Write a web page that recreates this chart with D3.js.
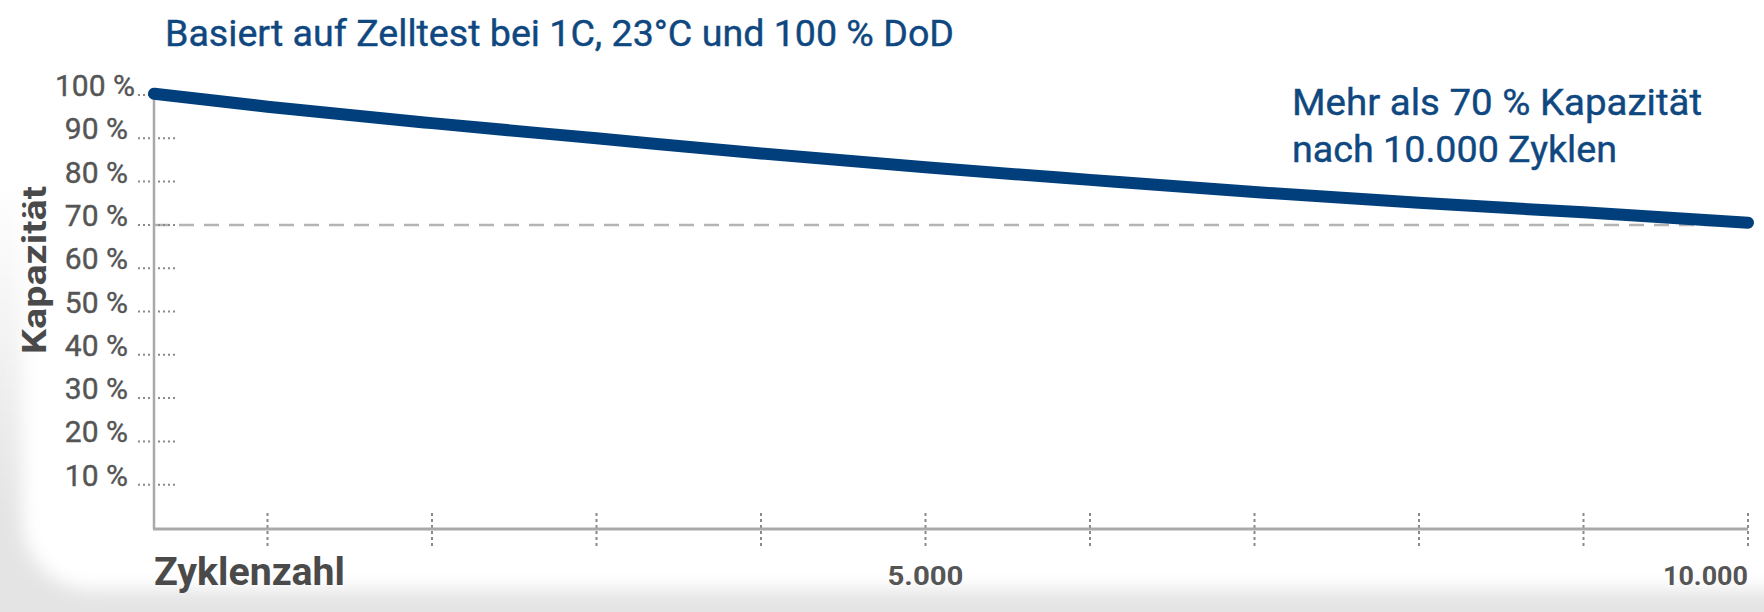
<!DOCTYPE html>
<html>
<head>
<meta charset="utf-8">
<script src="https://cdn.jsdelivr.net/npm/d3@7/dist/d3.min.js"></script>
<style>
  html, body { margin: 0; padding: 0; background: #ffffff; }
  svg { display: block; }
</style>
</head>
<body>
<svg id="chart" width="1764" height="612"></svg>
<script>
// ---- data ----
const cycles   = [310, 1000, 2000, 3000, 4000, 5000, 6000, 7000, 8000, 9000, 10000];
const capacity = [100.3, 97.3, 93.5, 90.0, 86.5, 83.3, 80.4, 77.6, 75.1, 72.9, 70.5];
const yTicks      = [100, 90, 80, 70, 60, 50, 40, 30, 20, 10];
const yTickLabels = ["100 %", "90 %", "80 %", "70 %", "60 %", "50 %", "40 %", "30 %", "20 %", "10 %"];
const xTicks      = [1000, 2000, 3000, 4000, 5000, 6000, 7000, 8000, 9000, 10000];
const xTickLabels = {5000: "5.000", 10000: "10.000"};
const referenceLevel = 70;
const xStart = 310, xEnd = 10000;
const titleText = "Basiert auf Zelltest bei 1C, 23°C und 100 % DoD";
const noteLines = ["Mehr als 70 % Kapazität", "nach 10.000 Zyklen"];
const yTitle = "Kapazität";
const xTitle = "Zyklenzahl";

// ---- layout ----
const W = 1764, H = 612;
const svg = d3.select("#chart");
const x = d3.scaleLinear().domain([xStart, xEnd]).range([154, 1748]);
const y = d3.scaleLinear().domain([0, 100]).range([528, 95]);

const blue = "#003f7b", textBlue = "#0f4880", gray = "#555555", axisGray = "#a9a9a9";
const font = "Roboto, 'Liberation Sans', sans-serif";

// ---- background card ----
const defs = svg.append("defs");
const blur = defs.append("filter").attr("id", "soft").attr("x", "-10%").attr("y", "-10%").attr("width", "120%").attr("height", "120%");
blur.append("feGaussianBlur").attr("stdDeviation", 9);
const lg = defs.append("linearGradient").attr("id", "fadeTop").attr("x1", 0).attr("y1", 0).attr("x2", 0).attr("y2", 1);
lg.append("stop").attr("offset", "0").attr("stop-color", "#fff").attr("stop-opacity", 1);
lg.append("stop").attr("offset", "0.3").attr("stop-color", "#fff").attr("stop-opacity", 1);
lg.append("stop").attr("offset", "0.85").attr("stop-color", "#fff").attr("stop-opacity", 0);

svg.append("rect").attr("width", W).attr("height", H).attr("fill", "#e4e4e4");
svg.append("rect").attr("x", 0).attr("y", 0).attr("width", 60).attr("height", H).attr("fill", "url(#fadeTop)");
svg.append("rect").attr("x", 22).attr("y", -120).attr("width", W + 100).attr("height", 710)
  .attr("rx", 70).attr("fill", "#fff").attr("filter", "url(#soft)");

// ---- title ----
svg.append("text").attr("x", 165).attr("y", 46)
  .attr("font-family", font).attr("font-size", 36).attr("fill", textBlue)
  .attr("stroke", textBlue).attr("stroke-width", 0.4)
  .attr("textLength", 789).attr("lengthAdjust", "spacingAndGlyphs")
  .text(titleText);

// ---- reference line at 70 % ----
svg.append("line")
  .attr("x1", x(xStart)).attr("x2", x(xEnd))
  .attr("y1", y(referenceLevel)).attr("y2", y(referenceLevel))
  .attr("stroke", "#b4b4b4").attr("stroke-width", 2.5).attr("stroke-dasharray", "15,10");

// ---- y ticks (dotted) and labels ----
const yg = svg.append("g");
yg.selectAll("line").data(yTicks).join("line")
  .attr("x1", 138).attr("x2", d => d === 100 ? x(xStart) : 176)
  .attr("y1", d => y(d)).attr("y2", d => y(d))
  .attr("stroke", "#8a8a8a").attr("stroke-width", 2).attr("stroke-dasharray", "2,3");
yg.selectAll("text").data(yTicks).join("text")
  .attr("x", d => d === 100 ? 135 : 128).attr("y", d => y(d) + 1)
  .attr("text-anchor", "end")
  .attr("font-family", font).attr("font-size", 30).attr("fill", gray)
  .attr("stroke", gray).attr("stroke-width", 0.4)
  .text((d, i) => yTickLabels[i]);

// ---- x ticks (dotted) ----
const xg = svg.append("g");
xg.selectAll("line").data(xTicks).join("line")
  .attr("x1", d => x(d)).attr("x2", d => x(d))
  .attr("y1", 513).attr("y2", 549)
  .attr("stroke", "#8a8a8a").attr("stroke-width", 2).attr("stroke-dasharray", "3,3");
xg.selectAll("text").data(xTicks.filter(d => xTickLabels[d])).join("text")
  .attr("x", d => x(d)).attr("y", 585)
  .attr("text-anchor", d => d === xEnd ? "end" : "middle")
  .attr("font-family", font).attr("font-weight", 700).attr("font-size", 26).attr("fill", gray)
  .attr("textLength", d => d === xEnd ? 85 : 76).attr("lengthAdjust", "spacingAndGlyphs")
  .text(d => xTickLabels[d]);

// ---- axes lines ----
svg.append("line").attr("x1", x(xStart)).attr("x2", x(xStart)).attr("y1", y(100)).attr("y2", y(0) + 1)
  .attr("stroke", axisGray).attr("stroke-width", 2.5);
svg.append("line").attr("x1", x(xStart) - 1).attr("x2", x(xEnd)).attr("y1", y(0) + 1).attr("y2", y(0) + 1)
  .attr("stroke", axisGray).attr("stroke-width", 3);

// ---- axis titles ----
svg.append("text")
  .attr("transform", `translate(46, ${270}) rotate(-90)`)
  .attr("text-anchor", "middle")
  .attr("font-family", font).attr("font-weight", 700).attr("font-size", 34).attr("fill", "#4a4a4a")
  .attr("textLength", 168).attr("lengthAdjust", "spacingAndGlyphs")
  .text(yTitle);
svg.append("text").attr("x", 154).attr("y", 585)
  .attr("font-family", font).attr("font-weight", 700).attr("font-size", 38).attr("fill", "#4a4a4a")
  .attr("textLength", 191).attr("lengthAdjust", "spacingAndGlyphs")
  .text(xTitle);

// ---- data line ----
const pts = cycles.map((c, i) => [c, capacity[i]]);
svg.append("path").datum(pts)
  .attr("d", d3.line().x(d => x(d[0])).y(d => y(d[1])).curve(d3.curveMonotoneX))
  .attr("fill", "none").attr("stroke", blue).attr("stroke-width", 12)
  .attr("stroke-linecap", "round").attr("stroke-linejoin", "round");

// ---- annotation ----
const note = svg.append("text").attr("font-family", font).attr("font-size", 36).attr("fill", textBlue)
  .attr("stroke", textBlue).attr("stroke-width", 0.4);
const noteWidths = [410, 325];
noteLines.forEach((t, i) => {
  note.append("tspan").attr("x", 1292).attr("y", 115 + i * 47)
    .attr("textLength", noteWidths[i]).attr("lengthAdjust", "spacingAndGlyphs").text(t);
});
</script>
</body>
</html>
